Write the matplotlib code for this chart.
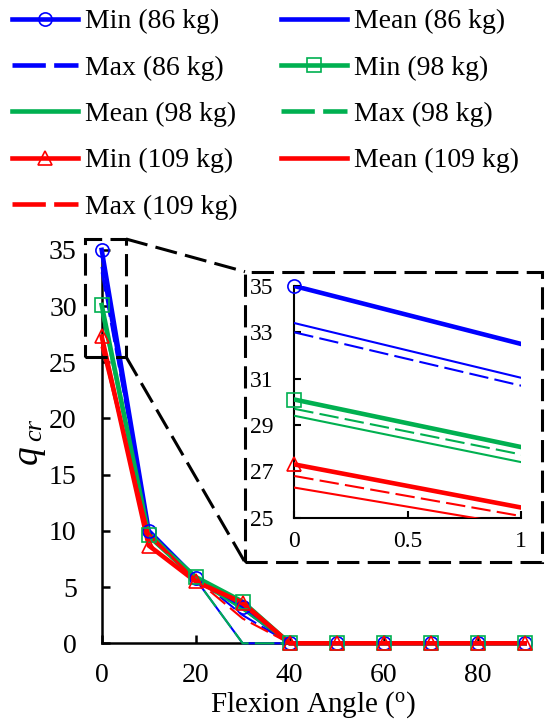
import matplotlib
matplotlib.use("Agg")
import matplotlib.pyplot as plt
from matplotlib.lines import Line2D
from matplotlib.patches import Rectangle
import numpy as np

plt.rcParams["font.family"] = ["Liberation Serif", "DejaVu Serif"]
plt.rcParams["mathtext.fontset"] = "custom"
plt.rcParams["mathtext.rm"] = "Liberation Serif"
plt.rcParams["mathtext.it"] = "Liberation Serif:italic"
plt.rcParams["lines.scale_dashes"] = False

# ---- data -------------------------------------------------------------
angles = [0, 10, 20, 30, 40, 50, 60, 70, 80, 90]

min_86 = [35.0, 10.0, 5.8, 3.2, 0, 0, 0, 0, 0, 0]
mean_86 = [33.4, 9.8, 5.7, 0.0, 0, 0, 0, 0, 0, 0]
max_86 = [33.0, 10.0, 5.9, 2.5, 0, 0, 0, 0, 0, 0]

min_98 = [30.1, 9.6, 5.9, 3.7, 0, 0, 0, 0, 0, 0]
mean_98 = [29.4, 9.4, 5.6, 3.0, 0, 0, 0, 0, 0, 0]
max_98 = [29.7, 10.0, 5.7, 0.0, 0, 0, 0, 0, 0, 0]

min_109 = [27.3, 8.7, 5.5, 3.6, 0, 0, 0, 0, 0, 0]
mean_109 = [26.3, 9.8, 5.6, 3.4, 0, 0, 0, 0, 0, 0]
max_109 = [26.8, 9.5, 5.7, 2.2, 0, 0, 0, 0, 0, 0]

masses = ["86", "98", "109"]
colors = ["#0000FF", "#00B050", "#FF0000"]
markers = ["o", "s", "^"]
series = {
    "86": (min_86, mean_86, max_86),
    "98": (min_98, mean_98, max_98),
    "109": (min_109, mean_109, max_109),
}

main_xticks = [0, 20, 40, 60, 80]
main_yticks = [0, 5, 10, 15, 20, 25, 30, 35]
inset_xticks = [0, 0.5, 1]
inset_xlabels = ["0", "0.5", "1"]
inset_yticks = [25, 27, 29, 31, 33, 35]

# ---- figure geometry (pixels -> figure fraction) ----------------------
W, H = 547, 725
fig = plt.figure(figsize=(W / 100, H / 100), dpi=100)


def fx(x):
    return x / W


def fy(y):
    return 1 - y / H


DASH = (0, (14, 4.5))
THICK, THIN = 3.3, 1.5
MS, MEW = 9.5, 1.2
FS = 20

ax = fig.add_axes([fx(101.7), fy(643.3), fx(524.7) - fx(101.7), fy(249.9) - fy(643.3)])
ax_in = fig.add_axes([fx(294.3), fy(517.7), fx(521) - fx(294.3), fy(286) - fy(517.7)])


def draw(a, clip):
    for m, c in zip(masses, colors):
        vmin, vmean, vmax = series[m]
        a.plot(angles, vmin, color=c, lw=THICK, clip_on=clip, zorder=3)
        a.plot(angles, vmean, color=c, lw=THIN, clip_on=clip, zorder=3)
        a.plot(angles, vmax, color=c, lw=THIN, ls=DASH, clip_on=clip, zorder=3)
    xs = np.asarray(angles, dtype=float)
    x0, x1 = a.get_xlim()
    y0, y1 = a.get_ylim()
    for m, c, mk in zip(masses, colors, markers):
        vmin = np.asarray(series[m][0], dtype=float)
        keep = (xs >= x0) & (xs <= x1) & (vmin >= y0) & (vmin <= y1)
        a.plot(xs[keep], vmin[keep], ls="none", marker=mk, ms=MS, mew=MEW,
               mfc="none", mec=c, clip_on=False, zorder=4)


# main axes
ax.set_xlim(0, 90)
ax.set_ylim(0, 35)
draw(ax, False)
ax.set_xticks(main_xticks)
ax.set_yticks(main_yticks)
for s in ("top", "right"):
    ax.spines[s].set_visible(False)
for s in ("left", "bottom"):
    ax.spines[s].set_linewidth(1.8)
ax.tick_params(direction="in", length=6, width=1.8, labelsize=FS)
ax.tick_params(axis="y", pad=18)
ax.tick_params(axis="x", pad=14.5)
ax.patch.set_alpha(0)

# inset axes
ax_in.set_xlim(0, 1)
ax_in.set_ylim(25, 35)
draw(ax_in, True)
ax_in.set_xticks(inset_xticks)
ax_in.set_xticklabels(inset_xlabels)
ax_in.set_yticks(inset_yticks)
for s in ("top", "right"):
    ax_in.spines[s].set_visible(False)
for s in ("left", "bottom"):
    ax_in.spines[s].set_linewidth(1.5)
ax_in.tick_params(direction="in", length=5, width=1.5, labelsize=17)
ax_in.tick_params(axis="y", pad=15)
ax_in.tick_params(axis="x", pad=9.5)
ax_in.patch.set_alpha(0)

# axis labels
fig.text(fx(313.2), fy(712), r"Flexion Angle ($^{\rm o}$)", fontsize=21,
         ha="center", va="baseline")
fig.text(fx(27), fy(455), "q", fontsize=27, style="italic", rotation=90,
         ha="center", va="center")
fig.text(fx(35), fy(430), "cr", fontsize=19, style="italic", rotation=90,
         ha="center", va="center")

# zoom box on the main axes, inset frame and connectors
BOX_LS = (0, (16, 6))
ax.add_patch(Rectangle((-3.5, 25.5), 8.7, 10.5, fill=False, ec="k", lw=2.2,
                       ls=BOX_LS, clip_on=False, zorder=5))
fig.add_artist(Rectangle((fx(245), fy(562.3)), fx(541.7) - fx(245),
                         fy(271.7) - fy(562.3), transform=fig.transFigure,
                         fill=False, ec="k", lw=2.2, ls=BOX_LS))
fig.add_artist(Line2D([fx(126), fx(245)], [fy(239), fy(271.7)],
                      transform=fig.transFigure, color="k", lw=2.2, ls=BOX_LS))
fig.add_artist(Line2D([fx(126), fx(245)], [fy(356.7), fy(562.3)],
                      transform=fig.transFigure, color="k", lw=2.2, ls=BOX_LS))

# legend, filled row by row
entries = []
for m, c, mk in zip(masses, colors, markers):
    entries.append((Line2D([], [], color=c, lw=THICK, marker=mk, ms=MS, mew=MEW,
                           mfc="none", mec=c), f"Min ({m} kg)"))
    entries.append((Line2D([], [], color=c, lw=THICK), f"Mean ({m} kg)"))
    entries.append((Line2D([], [], color=c, lw=THICK, ls=(0, (24, 6))), f"Max ({m} kg)"))
order = [0, 2, 4, 6, 8, 1, 3, 5, 7]
handles = [entries[i][0] for i in order]
labels = [entries[i][1] for i in order]
fig.legend(handles, labels, ncol=2, loc="upper left",
           bbox_to_anchor=(fx(11.7), fy(9)), frameon=False, borderpad=0,
           borderaxespad=0, fontsize=FS, handlelength=2.4, handletextpad=0.24,
           columnspacing=1.55, labelspacing=0.75, numpoints=1)

fig.savefig("out.png", dpi=100)
